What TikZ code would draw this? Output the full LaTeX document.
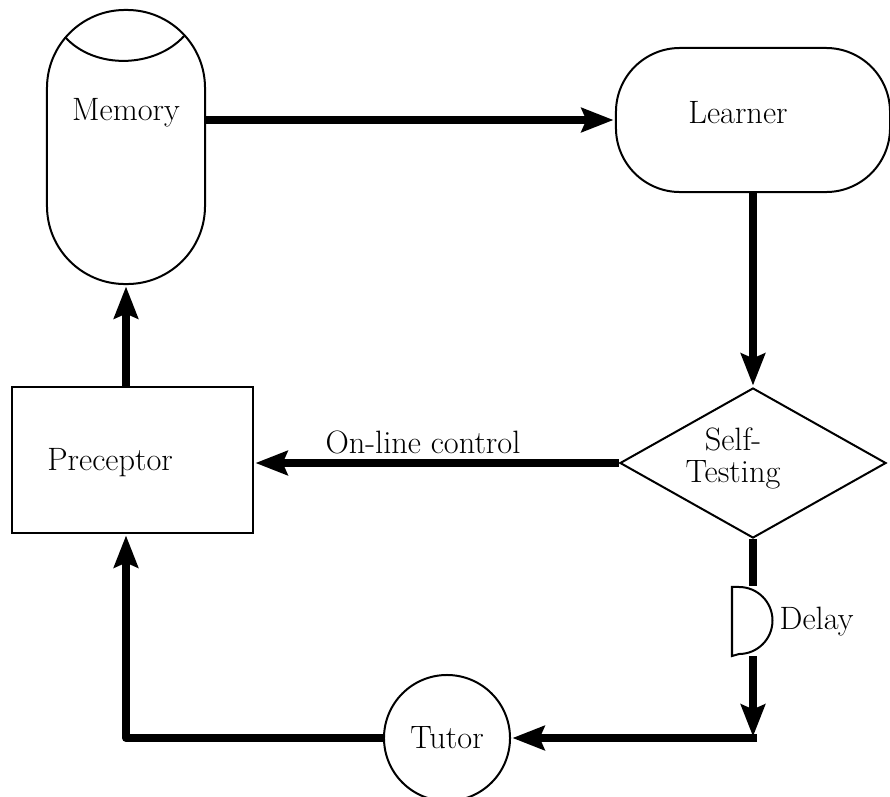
\documentclass[tikz,border=0pt]{standalone}
\usepackage{amsmath}
\usepackage{tikz}
\usetikzlibrary{arrows.meta,shapes.geometric,positioning}

\begin{document}
\begin{tikzpicture}[
    x = 0.025cm, y = -0.025cm, % one unit per pixel, y going down
    > = {Stealth[length=0.8cm,width=0.6cm,inset=0.12cm]}, % arrow head style
    shorten > = 1pt, % don't touch arrow head to node
    line width = 0.05cm, % outline style
    font = \fontsize{23}{27}\selectfont
    ]

    \tikzset{
    block/.style = {draw = black, inner sep = 0pt},
    flow/.style = {line width = 0.2cm, line join = round}
    }

    \useasboundingbox (0,0) rectangle (890,797);

    \node[block, rounded corners = 1.95cm, minimum width = 3.95cm, minimum height = 6.85cm,
          label = {[yshift=0.85cm]center:Memory}] (memory) at (126,147) {};
    \node[block, rounded corners = 1.6cm, minimum width = 6.85cm, minimum height = 3.6cm,
          label = {[xshift=-0.375cm,yshift=0.18cm]center:Learner}] (learner) at (753,120) {};
    \node[block, diamond, minimum width = 6.65cm, minimum height = 3.75cm,
          label = {[align=center,font=\fontsize{23}{23}\selectfont,xshift=-0.5cm,yshift=0.12cm]center:Self-\\Testing}] (selftest) at (753,463) {};
    \node[block, minimum width = 6.025cm, minimum height = 3.65cm,
          label = {[xshift=-0.56cm,yshift=-0.075cm]center:Preceptor}] (preceptor) at (132.5,460) {};
    \node[inner sep = 0pt, minimum width = 1cm, minimum height = 1.675cm] (delay) at (753,621.5) {};
    \node[right = 0pt of delay] (delaytext) {Delay};
    \node[block, circle, minimum size = 3.15cm] (tutor) at (447,738) {Tutor};

    % top of the memory drum
    \draw (65,37) .. controls (95,70) and (155,68) .. (185,35);
    % delay element
    \draw (delay.north west) -- ++(7,0) arc[start angle=90, end angle=-90, radius=0.8375cm]
          -- (delay.south west) -- cycle;

    \coordinate (bend) at (delay.south |- tutor.east);

    \draw[flow,->] (memory.east |- learner.west) -- (learner.west);
    \draw[flow,->] (learner.south) -- (selftest.north);
    \draw[flow,->] (selftest.west) -- node[above, pos=0.537]{On-line control} (preceptor.east |- selftest.west);
    \draw[flow,->] (memory.south |- preceptor.north) -- (memory.south);
    \draw[flow] (selftest.south) -- (delay.north);
    \draw[flow,->] (delay.south) -- (bend);
    \draw[flow,->,shorten <= -0.1cm] (bend) -- (tutor.east);
    \draw[flow,->] (tutor.west) -| (memory.south |- preceptor.south);
\end{tikzpicture}
\end{document}
